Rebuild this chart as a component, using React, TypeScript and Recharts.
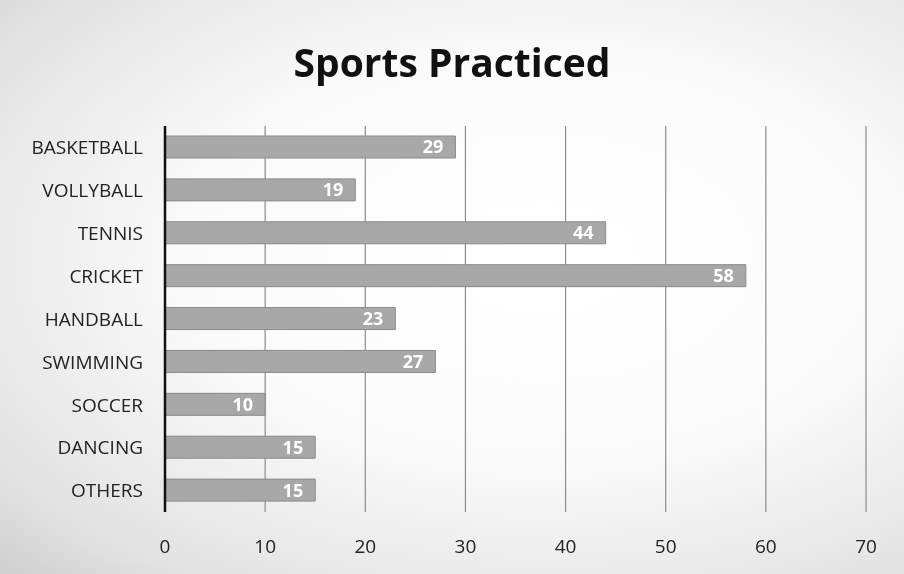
import React from "react";
import { BarChart, Bar, XAxis, YAxis, CartesianGrid, LabelList } from "recharts";

const categories = ["BASKETBALL", "VOLLYBALL", "TENNIS", "CRICKET", "HANDBALL", "SWIMMING", "SOCCER", "DANCING", "OTHERS"];
const values = [29, 19, 44, 58, 23, 27, 10, 15, 15];
const xTicks = [0, 10, 20, 30, 40, 50, 60, 70];

const data = categories.map((c, i) => ({ name: c, value: values[i] }));

export default function App() {
  return (
    <div
      style={{
        position: "fixed",
        left: 0,
        top: 0,
        width: 904,
        height: 574,
        background: "radial-gradient(ellipse at 60% 45%, #ffffff 0%, #fbfbfb 45%, #e2e2e2 85%, #cfcfcf 100%)",
        fontFamily: "'Open Sans', sans-serif",
      }}
    >
      <div
        style={{
          position: "absolute",
          top: 34,
          left: 0,
          width: 904,
          textAlign: "center",
          fontSize: 39,
          lineHeight: "56px",
          fontWeight: 700,
          color: "#111",
          paddingLeft: 0,
        }}
      >
        Sports Practiced
      </div>
      <BarChart
        width={904}
        height={574}
        data={data}
        layout="vertical"
        margin={{ top: 126, right: 38, bottom: 2, left: 0 }}
        barCategoryGap={0}
      >
        <CartesianGrid horizontal={false} vertical={true} stroke="#8c8c8c" strokeWidth={1.2} />
        <XAxis
          type="number"
          domain={[0, 70]}
          ticks={xTicks}
          axisLine={false}
          tickLine={false}
          tickMargin={22}
          height={60}
          tick={{ fontSize: 19, fill: "#222", fontFamily: "'Open Sans', sans-serif" }}
        />
        <YAxis
          type="category"
          dataKey="name"
          width={165}
          axisLine={{ stroke: "#111", strokeWidth: 2.5 }}
          tickLine={false}
          tickMargin={16}
          tick={{ fontSize: 19, fill: "#222", fontFamily: "'Open Sans', sans-serif" }}
        />
        <Bar dataKey="value" fill="#a8a8a8" stroke="#8a8a8a" strokeWidth={1} barSize={22} isAnimationActive={false}>
          <LabelList
            dataKey="value"
            position="insideRight"
            offset={12}
            fill="#ffffff"
            fontSize={18}
            fontWeight={700}
            fontFamily="'Open Sans', sans-serif"
          />
        </Bar>
      </BarChart>
    </div>
  );
}
